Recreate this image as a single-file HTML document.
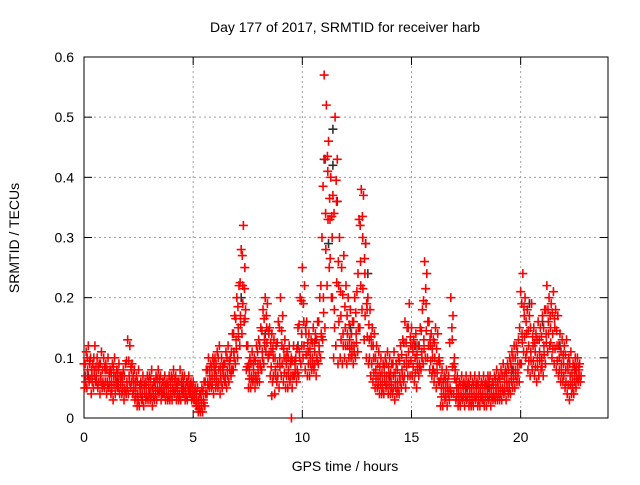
<!DOCTYPE html>
<html><head><meta charset="utf-8"><style>
body{margin:0;background:#fff;}
svg text{font-family:"Liberation Sans",sans-serif;font-size:14px;fill:#000;}
</style></head><body>
<svg id="chart" width="640" height="480" xmlns="http://www.w3.org/2000/svg">
<rect width="640" height="480" fill="#fff"/>
<text x="345" y="32" text-anchor="middle">Day 177 of 2017, SRMTID for receiver harb</text>
<text transform="translate(19,238) rotate(-90)" text-anchor="middle">SRMTID / TECUs</text>
<text x="345" y="471" text-anchor="middle">GPS time / hours</text>
<g id="grid"></g><g id="axes"></g><g id="marks"></g>
</svg>
<script>
const xTicks=[0,5,10,15,20];
const yTicks=[0,0.1,0.2,0.3,0.4,0.5,0.6];
const yTickLabels=["0","0.1","0.2","0.3","0.4","0.5","0.6"];
const stepHour=0.1;
const redHigh=[.09,.11,.12,.10,.09,.12,.10,.09,.11,.10,.09,.10,.08,.09,.10,.08,.09,.07,.08,.09,.13,.12,.09,.08,.07,.08,.06,.07,.06,.07,.07,.08,.06,.07,.08,.07,.06,.07,.06,.07,.07,.08,.07,.06,.08,.07,.07,.06,.07,.06,.06,.05,.05,.04,.05,.06,.08,.10,.09,.10,.10,.11,.12,.10,.09,.11,.12,.10,.14,.17,.20,.22,.28,.32,.18,.12,.10,.11,.10,.12,.13,.15,.18,.20,.19,.15,.14,.13,.12,.16,.20,.17,.13,.11,.12,.10,.12,.10,.15,.20,.25,.22,.16,.14,.13,.15,.14,.16,.20,.30,.57,.52,.46,.40,.37,.50,.43,.30,.25,.27,.22,.20,.18,.16,.20,.21,.33,.38,.37,.29,.20,.18,.15,.14,.12,.11,.10,.09,.10,.11,.10,.09,.11,.09,.10,.12,.13,.16,.15,.19,.15,.13,.14,.12,.15,.18,.26,.24,.16,.14,.13,.15,.14,.09,.08,.07,.08,.07,.20,.17,.08,.07,.06,.07,.06,.07,.06,.07,.06,.07,.06,.07,.06,.07,.06,.07,.07,.06,.07,.08,.07,.08,.09,.08,.09,.10,.11,.12,.12,.13,.21,.24,.20,.18,.17,.19,.15,.14,.16,.15,.17,.18,.22,.20,.19,.21,.18,.17,.14,.13,.12,.13,.10,.11,.09,.10,.10,.09];
const redLow=[.05,.05,.06,.04,.05,.06,.05,.04,.05,.05,.04,.05,.04,.03,.04,.05,.04,.04,.03,.04,.04,.05,.04,.03,.02,.02,.03,.02,.03,.03,.03,.02,.03,.03,.04,.03,.04,.03,.03,.03,.03,.04,.03,.03,.03,.04,.03,.03,.04,.03,.03,.02,.01,.01,.01,.02,.04,.05,.05,.04,.05,.05,.04,.05,.06,.05,.06,.07,.08,.09,.10,.12,.14,.16,.08,.05,.05,.06,.05,.06,.06,.08,.09,.11,.10,.07,.06,.04,.06,.05,.07,.06,.05,.05,.06,.05,.07,.06,.07,.09,.10,.08,.07,.07,.08,.08,.07,.09,.10,.13,.15,.22,.25,.20,.10,.12,.09,.10,.09,.10,.09,.10,.10,.09,.10,.11,.15,.18,.13,.10,.09,.07,.06,.05,.05,.04,.04,.04,.05,.04,.04,.04,.03,.04,.04,.05,.06,.05,.07,.07,.07,.06,.05,.07,.08,.09,.10,.10,.08,.07,.06,.05,.06,.02,.02,.03,.02,.03,.04,.04,.03,.02,.02,.03,.02,.03,.02,.02,.02,.03,.02,.02,.03,.02,.02,.03,.02,.03,.03,.03,.03,.03,.04,.03,.04,.04,.05,.05,.06,.06,.09,.11,.10,.08,.07,.08,.07,.06,.07,.08,.07,.09,.11,.12,.10,.09,.08,.07,.06,.06,.05,.04,.03,.04,.04,.05,.06,.06];
const redMid=[.07,.08,.09,.07,.08,.07,.08,.07,.06,.08,.06,.07,.06,.07,.06,.06,.07,.06,.05,.06,.07,.08,.06,.05,.04,.05,.04,.05,.04,.05,.05,.04,.05,.05,.06,.04,.05,.05,.04,.05,.05,.06,.05,.04,.05,.05,.04,.05,.05,.04,.04,.03,.02,.03,.03,.04,.06,.07,.07,.08,.07,.08,.07,.08,.07,.08,.09,.08,.11,.13,.15,.17,.22,.25,.12,.08,.07,.08,.07,.09,.09,.11,.13,.15,.14,.11,.10,.08,.09,.10,.12,.10,.09,.08,.09,.07,.09,.08,.11,.14,.16,.14,.11,.10,.10,.11,.10,.12,.14,.20,.34,.41,.33,.30,.18,.36,.22,.17,.14,.15,.14,.13,.12,.12,.14,.15,.26,.30,.24,.18,.13,.12,.10,.08,.07,.07,.06,.07,.07,.07,.06,.07,.06,.06,.07,.08,.09,.10,.11,.12,.11,.10,.09,.09,.11,.13,.19,.16,.12,.10,.10,.09,.10,.05,.05,.05,.05,.05,.13,.10,.05,.04,.04,.05,.04,.05,.04,.04,.04,.05,.04,.04,.04,.05,.04,.05,.04,.04,.05,.05,.05,.05,.06,.06,.06,.07,.08,.08,.09,.09,.14,.17,.14,.12,.11,.12,.11,.10,.11,.10,.12,.14,.16,.15,.14,.15,.12,.10,.09,.09,.08,.08,.07,.06,.07,.07,.08,.07];
const redExtraHours=[9.5,8.6];
const redExtraValues=[0,0.037];
const blackHours=[0.2,1.5,3.0,4.5,6.0,7.2,8.3,9.8,10.6,11.0,11.2,11.4,11.4,11.6,12.2,12.9,13.0,14.0,15.2,16.0,17.5,18.5,19.6,20.4,21.0,21.8,22.5];
const blackValues=[0.07,0.06,0.04,0.05,0.08,0.2,0.14,0.12,0.13,0.43,0.29,0.48,0.42,0.36,0.15,0.29,0.24,0.07,0.12,0.08,0.05,0.05,0.08,0.19,0.16,0.12,0.08];

const X0=84,X1=608,Y0=418,Y1=57,XMAX=24,YMAX=0.6;
const xs=h=>X0+h/XMAX*(X1-X0);
const ys=v=>Y0-v/YMAX*(Y0-Y1);
const NS="http://www.w3.org/2000/svg";
function mk(tag,attrs,parent){const e=document.createElementNS(NS,tag);for(const k in attrs)e.setAttribute(k,attrs[k]);parent.appendChild(e);return e;}
const grid=document.getElementById('grid'),axes=document.getElementById('axes'),marks=document.getElementById('marks');
yTicks.forEach((t,i)=>{const y=ys(t);
 if(i>0&&i<yTicks.length-1){const g=mk('line',{x1:X0,x2:X1,y1:y,y2:y,stroke:'#a0a0a0','stroke-dasharray':'2,3'},grid);
 
 }
 mk('line',{x1:X0,x2:X0+8,y1:y,y2:y,stroke:'#000'},axes);
 mk('line',{x1:X1,x2:X1-8,y1:y,y2:y,stroke:'#000'},axes);
 const tl=mk('text',{x:X0-10,y:y+5,'text-anchor':'end'},axes);tl.textContent=yTickLabels[i];
 
 });
xTicks.forEach(t=>{const x=xs(t);
 if(t>0){const g=mk('line',{x1:x,x2:x,y1:Y0,y2:Y1,stroke:'#a0a0a0','stroke-dasharray':'2,3'},grid);
 
 }
 mk('line',{x1:x,x2:x,y1:Y0,y2:Y0-8,stroke:'#000'},axes);
 mk('line',{x1:x,x2:x,y1:Y1,y2:Y1+8,stroke:'#000'},axes);
 const tl=mk('text',{x:x,y:Y0+24,'text-anchor':'middle'},axes);tl.textContent=String(t);
 
 });
const frame=mk('rect',{x:X0,y:Y1,width:X1-X0,height:Y0-Y1,fill:'none',stroke:'#000'},axes);


function plus(h,v,color,name){const x=xs(h),y=ys(v);
 const p=mk('path',{d:`M${x-4.5},${y}h9M${x},${y-4.5}v9`,stroke:color,'stroke-width':1.6,fill:'none'},marks);
 
 }
blackHours.forEach((h,i)=>plus(h,blackValues[i],'#303030','black-point'));
[redHigh,redLow,redMid].forEach((arr,k)=>arr.forEach((v,i)=>plus(i*stepHour+k*0.033,v,'#ff0000','red-point')));
/* second pass with mixed neighbours to densify clusters */
redMid.forEach((v,i)=>{if(i+1<redMid.length)plus(i*stepHour+0.05,(v+redHigh[i+1])/2,'#ff0000','red-point');});
redMid.forEach((v,i)=>{if(i+1<redLow.length)plus(i*stepHour+0.075,(v+redLow[i+1])/2,'#ff0000','red-point');});
redExtraHours.forEach((h,i)=>plus(h,redExtraValues[i],'#ff0000','red-point'));
</script>
</body></html>
